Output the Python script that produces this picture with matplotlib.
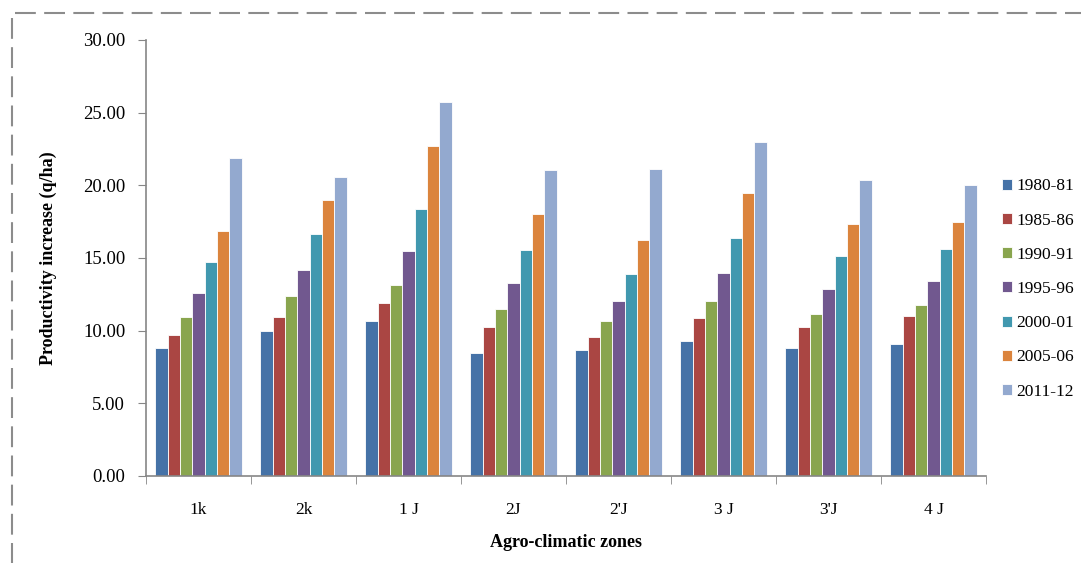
import matplotlib
matplotlib.use("Agg")
import matplotlib.pyplot as plt
from matplotlib.lines import Line2D
from matplotlib.ticker import FormatStrFormatter
import numpy as np

zones = ["1k", "2k", "1 J", "2J", "2'J", "3 J", "3'J", "4 J"]
years = ["1980-81", "1985-86", "1990-91", "1995-96", "2000-01", "2005-06", "2011-12"]
v1980 = [8.84, 9.96, 10.65, 8.47, 8.70, 9.30, 8.79, 9.05]
v1985 = [9.73, 10.95, 11.89, 10.24, 9.57, 10.84, 10.26, 11.04]
v1990 = [10.95, 12.37, 13.11, 11.46, 10.65, 12.05, 11.18, 11.78]
v1995 = [12.58, 14.19, 15.47, 13.29, 12.01, 14.00, 12.86, 13.45]
v2000 = [14.74, 16.62, 18.34, 15.54, 13.93, 16.39, 15.11, 15.61]
v2005 = [16.83, 18.99, 22.70, 18.00, 16.21, 19.49, 17.31, 17.45]
v2011 = [21.85, 20.57, 25.76, 21.03, 21.10, 22.98, 20.39, 20.04]
series = [v1980, v1985, v1990, v1995, v2000, v2005, v2011]
colors = ["#4572A7", "#AA4643", "#89A54E", "#71588F", "#4198AF", "#DB843D", "#93A9CF"]

plt.rcParams['font.family'] = ['Liberation Serif', 'DejaVu Serif']

fig = plt.figure(figsize=(10.81, 5.63), dpi=100)
ax = fig.add_axes([146/1081, 1-476/563, 840/1081, 436/563])

n = len(series)
bw = 0.826 / n
x = np.arange(len(zones))
for i, (vals, c, lab) in enumerate(zip(series, colors, years)):
    ax.bar(x - 0.413 + bw*(i+0.5), vals, width=bw, color=c, label=lab,
           edgecolor='white', linewidth=0.6)

ax.set_xlim(-0.5, len(zones)-0.5)
ax.set_ylim(0, 30)
ax.set_yticks(np.arange(0, 30.01, 5))
ax.yaxis.set_major_formatter(FormatStrFormatter('%.2f'))
ax.set_xticks(x)
ax.set_xticklabels(zones)
ax.set_xticks(np.arange(-0.5, len(zones), 1), minor=True)
ax.tick_params(axis='x', which='major', length=0, pad=19, labelsize=12.5)
ax.tick_params(axis='x', which='minor', length=6, color='#868686', direction='out')
ax.tick_params(axis='y', length=6, color='#868686', direction='out', labelsize=13.5, pad=9)
for s in ['top', 'right']:
    ax.spines[s].set_visible(False)
for s in ['left', 'bottom']:
    ax.spines[s].set_color('#868686')
    ax.spines[s].set_linewidth(1.2)

ax.set_xlabel("Agro-climatic zones", fontsize=13, fontweight='bold', labelpad=11)
ax.set_ylabel("Productivity increase (q/ha)", fontsize=13, fontweight='bold', labelpad=19)

leg = fig.legend(loc='center left', bbox_to_anchor=(995/1081, 1-289/563), frameon=False,
                 fontsize=12.5, handlelength=0.6, handleheight=0.6, handletextpad=0.25,
                 labelspacing=1.05, borderaxespad=0)

# dashed border
fig.add_artist(Line2D([15/1081, 1.0], [1-13/563, 1-13/563], transform=fig.transFigure,
                      color='#8c8c8c', linestyle=(0, (10, 4)), linewidth=1.5))
fig.add_artist(Line2D([12/1081, 12/1081], [1-18/563, 0], transform=fig.transFigure,
                      color='#8c8c8c', linestyle=(0, (10, 4)), linewidth=1.5))

fig.savefig("out.png", dpi=100)
